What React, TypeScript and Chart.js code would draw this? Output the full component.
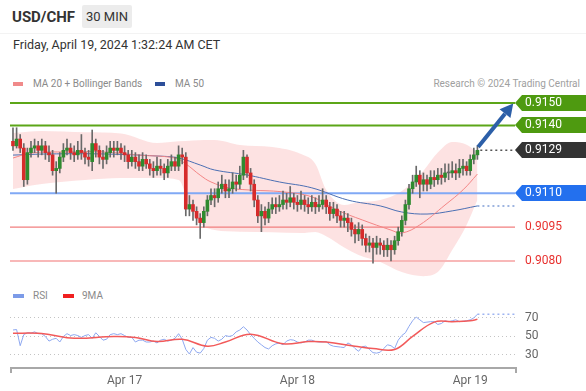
import React, { useEffect, useRef } from "react";
import { Chart, registerables } from "chart.js";

Chart.register(...registerables);

const FONT = "Roboto, 'Liberation Sans', Arial, sans-serif";

// ---- candle data (30 min) ----
const opens = [
  0.9133, 0.9131, 0.9134, 0.913, 0.9116, 0.9128, 0.913, 0.9131, 0.9129, 0.9131,
  0.9128, 0.9127, 0.912, 0.9121, 0.9126, 0.9129, 0.913, 0.9128, 0.9127, 0.9129,
  0.9128, 0.9126, 0.9124, 0.9132, 0.9129, 0.9126, 0.9125, 0.9128, 0.913, 0.9129,
  0.913, 0.9128, 0.9127, 0.9124, 0.9126, 0.9124, 0.9122, 0.9125, 0.9123, 0.9121,
  0.912, 0.9122, 0.9121, 0.9119, 0.9122, 0.9124, 0.9122, 0.9127, 0.9126, 0.9103,
  0.9105, 0.9102, 0.9099, 0.9097, 0.9102, 0.9107, 0.9109, 0.9108, 0.9112, 0.9114,
  0.9111, 0.9112, 0.9115, 0.9114, 0.9118, 0.9126, 0.9119, 0.9114, 0.9107, 0.91,
  0.9102, 0.9099, 0.9103, 0.9105, 0.9104, 0.9105, 0.9107, 0.9106, 0.9108, 0.9106,
  0.9105, 0.9107, 0.9105, 0.9104, 0.9106, 0.9104, 0.9105, 0.9107, 0.9104, 0.9101,
  0.9103, 0.91, 0.9098, 0.9099, 0.9097, 0.9094, 0.9092, 0.9094, 0.909, 0.9087,
  0.9088, 0.9086, 0.9088, 0.9087, 0.9085, 0.9087, 0.9085, 0.9089, 0.9093, 0.9098,
  0.9105, 0.9112, 0.9115, 0.9118, 0.9114, 0.9116, 0.9114, 0.9117, 0.9116, 0.9118,
  0.9117, 0.9119, 0.9119, 0.912, 0.9119, 0.9121, 0.9122, 0.912, 0.9125, 0.9127,
];
const closes = [
  0.9131, 0.9134, 0.913, 0.9116, 0.9128, 0.913, 0.9131, 0.9129, 0.9131, 0.9128,
  0.9127, 0.912, 0.9121, 0.9126, 0.9129, 0.913, 0.9128, 0.9127, 0.9129, 0.9128,
  0.9126, 0.9125, 0.9132, 0.9129, 0.9126, 0.9125, 0.9128, 0.913, 0.9129, 0.913,
  0.9128, 0.9127, 0.9124, 0.9126, 0.9124, 0.9122, 0.9125, 0.9123, 0.9121, 0.912,
  0.9122, 0.9121, 0.9119, 0.9122, 0.9124, 0.9122, 0.9127, 0.9126, 0.9103, 0.9105,
  0.9102, 0.9099, 0.9097, 0.9102, 0.9107, 0.9109, 0.9108, 0.9112, 0.9114, 0.9111,
  0.9112, 0.9115, 0.9114, 0.9118, 0.9126, 0.9119, 0.9114, 0.9107, 0.91, 0.9102,
  0.9099, 0.9103, 0.9105, 0.9104, 0.9105, 0.9107, 0.9106, 0.9108, 0.9106, 0.9105,
  0.9107, 0.9105, 0.9104, 0.9106, 0.9104, 0.9105, 0.9107, 0.9104, 0.9101, 0.9103,
  0.91, 0.9098, 0.9099, 0.9097, 0.9094, 0.9092, 0.9094, 0.909, 0.9087, 0.9088,
  0.9086, 0.9088, 0.9087, 0.9085, 0.9087, 0.9085, 0.9089, 0.9093, 0.9098, 0.9105,
  0.9112, 0.9115, 0.9118, 0.9114, 0.9116, 0.9114, 0.9117, 0.9116, 0.9118, 0.9117,
  0.9119, 0.9119, 0.912, 0.9119, 0.9121, 0.9122, 0.912, 0.9125, 0.9127, 0.9129,
];
const highs = [
  0.9139, 0.9139, 0.9136, 0.9132, 0.913, 0.9133, 0.9134, 0.9133, 0.9134, 0.9133,
  0.9131, 0.9129, 0.9124, 0.9128, 0.9132, 0.9134, 0.9132, 0.9131, 0.9133, 0.9136,
  0.913, 0.9129, 0.9138, 0.9134, 0.9131, 0.9129, 0.9131, 0.9133, 0.9133, 0.9133,
  0.9132, 0.9131, 0.9129, 0.9129, 0.9128, 0.9127, 0.9128, 0.9127, 0.9125, 0.9124,
  0.9126, 0.9125, 0.9123, 0.9125, 0.9127, 0.9126, 0.9131, 0.913, 0.9128, 0.9109,
  0.9107, 0.9104, 0.9101, 0.9104, 0.9109, 0.9112, 0.9112, 0.9115, 0.9118, 0.9116,
  0.9116, 0.9119, 0.9118, 0.9122, 0.9129, 0.9127, 0.9121, 0.9116, 0.9109, 0.9105,
  0.9104, 0.9106, 0.9108, 0.9108, 0.9109, 0.9111, 0.911, 0.9113, 0.911, 0.9109,
  0.9111, 0.9109, 0.9108, 0.9109, 0.9108, 0.9109, 0.9112, 0.9109, 0.9106, 0.9106,
  0.9105, 0.9102, 0.9102, 0.9101, 0.9099, 0.9096, 0.9097, 0.9096, 0.9092, 0.9091,
  0.909, 0.9091, 0.909, 0.9089, 0.909, 0.9089, 0.9091, 0.9095, 0.91, 0.9107,
  0.9114, 0.9118, 0.9122, 0.912, 0.9119, 0.9118, 0.912, 0.912, 0.9121, 0.9121,
  0.9123, 0.9123, 0.9124, 0.9123, 0.9125, 0.9125, 0.9124, 0.9127, 0.913, 0.9131,
];
const lows = [
  0.9129, 0.913, 0.9128, 0.9113, 0.9114, 0.9126, 0.9128, 0.9126, 0.9127, 0.9125,
  0.9124, 0.9118, 0.911, 0.9119, 0.9124, 0.9127, 0.9125, 0.9124, 0.9125, 0.9125,
  0.9123, 0.9122, 0.912, 0.9126, 0.9123, 0.9121, 0.9123, 0.9126, 0.9126, 0.9127,
  0.9125, 0.9124, 0.9121, 0.9122, 0.9121, 0.912, 0.912, 0.9121, 0.9118, 0.9117,
  0.9118, 0.9118, 0.9116, 0.9117, 0.912, 0.912, 0.912, 0.9123, 0.91, 0.91,
  0.9098, 0.9096, 0.909, 0.9095, 0.91, 0.9105, 0.9104, 0.9106, 0.911, 0.9108,
  0.9108, 0.911, 0.9111, 0.9112, 0.9116, 0.9117, 0.9111, 0.9104, 0.9097, 0.9093,
  0.9096, 0.9097, 0.9101, 0.9101, 0.9102, 0.9103, 0.9103, 0.9104, 0.9103, 0.9102,
  0.9103, 0.9102, 0.9101, 0.9102, 0.9101, 0.9102, 0.9103, 0.9101, 0.9098, 0.9099,
  0.9097, 0.9095, 0.9095, 0.9093, 0.9091, 0.9088, 0.9089, 0.9087, 0.9084, 0.9084,
  0.9079, 0.9083, 0.9083, 0.9082, 0.9082, 0.908, 0.9083, 0.9087, 0.9091, 0.9096,
  0.9103, 0.911, 0.9113, 0.9108, 0.9111, 0.9111, 0.9112, 0.9113, 0.9114, 0.9114,
  0.9115, 0.9116, 0.9117, 0.9116, 0.9117, 0.9118, 0.9118, 0.9118, 0.9123, 0.9125,
];

// ---- x axis day labels ----
const dayTickIdx = [31, 79, 127];
const dayTickLabels = ["Apr 17", "Apr 18", "Apr 19"];

// ---- key levels ----
const resistance = [0.915, 0.914];
const pivot = [0.911];
const support = [0.9095, 0.908];

// ---- overlays (candle index, value) ----
const bbIdx = [0, 8, 20, 30, 40, 46, 50, 56, 63, 72, 80, 84, 87, 92, 96, 102, 108, 114, 118, 122, 126, 129];
const bbUpper = [
  0.91367, 0.91376, 0.9137, 0.91365, 0.91323, 0.9133, 0.91334, 0.91336, 0.91314, 0.91305, 0.91274,
  0.9123, 0.91115, 0.91048, 0.9106, 0.9107, 0.9111, 0.912, 0.9128, 0.91327, 0.91315, 0.9128,
];
const bbLower = [
  0.91119, 0.91141, 0.91159, 0.91168, 0.91168, 0.91159, 0.91004, 0.90937, 0.9093, 0.90927, 0.90924,
  0.90929, 0.9091, 0.9086, 0.90827, 0.90796, 0.90751, 0.90733, 0.90751, 0.90849, 0.9096, 0.9107,
];
const ma20Idx = [0, 5, 15, 25, 35, 45, 48, 52, 55, 60, 65, 75, 83, 90, 97, 105, 108, 113, 120, 125, 129];
const ma20 = [
  0.91256, 0.91278, 0.91283, 0.91283, 0.91269, 0.91256, 0.9123, 0.9118, 0.9115, 0.91124, 0.91115,
  0.91106, 0.91084, 0.91026, 0.90982, 0.90937, 0.90924, 0.9096, 0.91048, 0.91115, 0.91185,
];
const ma50Idx = [0, 10, 25, 40, 46, 52, 56, 65, 74, 83, 93, 102, 108, 115, 122, 129];
const ma50 = [
  0.91269, 0.91274, 0.91274, 0.91265, 0.91256, 0.91225, 0.91203, 0.91181, 0.9115, 0.91124, 0.9107,
  0.91044, 0.91017, 0.91008, 0.91022, 0.91044,
];

// ---- RSI ----
const rsi = [
  57, 57.5, 40, 52, 54, 53.5, 55, 53, 53, 50,
  45, 47, 48, 44, 50, 53, 51, 52, 51, 49,
  51, 52, 48, 54, 50, 46, 47, 52, 53, 52,
  53, 51, 49, 49, 44, 46, 46, 44, 44, 45,
  43, 46, 47, 45, 46, 48, 53, 47, 36, 31,
  38, 33, 32, 37, 46, 49, 48, 45, 47, 51,
  50, 51, 55, 57, 60.5, 57, 52, 48, 44, 41,
  38, 36.5, 40, 42, 43, 41, 45, 46.5, 46, 44,
  43, 44, 46, 46, 44.5, 44, 44, 44.5, 41, 39.5,
  39, 38.5, 38, 43, 41, 37, 34, 39, 39.5, 36,
  32.5, 32, 33, 37, 41, 40, 37, 46, 51, 54,
  61, 67, 71, 68, 65, 65.5, 66, 66, 63, 64,
  67, 66, 67, 68, 66, 66.5, 67, 68, 70, 74,
];
const rsiMaIdx = [0, 7, 10, 17, 28, 34, 40, 47, 54, 59, 66, 75, 82, 87, 95, 100, 106, 111, 117, 122, 127, 129];
const rsiMa = [53.5, 53.5, 52, 48, 50, 49, 44.5, 47, 39.5, 44, 52.5, 42, 44.5, 44, 39.5, 37, 36, 50, 65.5, 66, 67, 68.5];
const rsiTicks = [30, 50, 70];

const X_MIN = -0.83;
const X_MAX = 139.44;
const AXIS_W = 71;

const GREEN = "#2f8a2f";
const RED = "#d62b2b";

function pts(idx: number[], vals: number[]) {
  return idx.map((x, i) => ({ x, y: vals[i] }));
}

function fixWidth(s: any) {
  s.width = AXIS_W;
  s.paddingTop = 0;
  s.paddingBottom = 0;
  s.paddingLeft = 0;
  s.paddingRight = 0;
}
function fixHeight(s: any) {
  s.height = 24;
  s.paddingTop = 0;
  s.paddingBottom = 0;
  s.paddingLeft = 0;
  s.paddingRight = 0;
}

export default function App() {
  const mainRef = useRef<HTMLCanvasElement>(null);
  const rsiRef = useRef<HTMLCanvasElement>(null);

  useEffect(() => {
    Chart.defaults.font.family = FONT;
    const n = closes.length;
    const last = closes[n - 1];

    const tagDefs: { v: number; bg: string | null; fg: string }[] = [
      ...resistance.map((v) => ({ v, bg: "#4e9a10", fg: "#ffffff" })),
      { v: last, bg: "#333333", fg: "#ffffff" },
      ...pivot.map((v) => ({ v, bg: "#2370ee", fg: "#ffffff" })),
      ...support.map((v) => ({ v, bg: null, fg: "#e8312f" })),
    ];

    const hline = (v: number, color: string, width: number) => ({
      type: "line" as const,
      data: [
        { x: X_MIN, y: v },
        { x: X_MAX, y: v },
      ],
      borderColor: color,
      borderWidth: width,
      pointRadius: 0,
      fill: false,
      order: 8,
    });

    const tagPlugin = {
      id: "tags",
      beforeDraw(chart: any) {
        const { ctx, chartArea } = chart;
        const ys = chart.scales.y;
        tagDefs.forEach((t) => {
          if (!t.bg) return;
          const py = Math.round(ys.getPixelForValue(t.v));
          const x0 = chartArea.right;
          const h = 8;
          ctx.save();
          ctx.fillStyle = t.bg;
          ctx.beginPath();
          ctx.moveTo(x0, py);
          ctx.lineTo(x0 + 7, py - h);
          ctx.lineTo(chart.width, py - h);
          ctx.lineTo(chart.width, py + h);
          ctx.lineTo(x0 + 7, py + h);
          ctx.closePath();
          ctx.fill();
          ctx.restore();
        });
      },
      afterDatasetsDraw(chart: any) {
        const { ctx } = chart;
        const xs = chart.scales.x;
        const ys = chart.scales.y;
        const x1 = xs.getPixelForValue(n - 1 + 0.2);
        const y1 = ys.getPixelForValue(highs[n - 1] - 0.00005);
        const x2 = xs.getPixelForValue(X_MAX - 0.5);
        const y2 = ys.getPixelForValue(resistance[0] - 0.00003);
        const ang = Math.atan2(y2 - y1, x2 - x1);
        const headLen = 13;
        const headW = 7;
        const bx = x2 - headLen * Math.cos(ang);
        const by = y2 - headLen * Math.sin(ang);
        ctx.save();
        ctx.strokeStyle = "#2c5fa8";
        ctx.fillStyle = "#2c5fa8";
        ctx.lineWidth = 4;
        ctx.beginPath();
        ctx.moveTo(x1, y1);
        ctx.lineTo(bx, by);
        ctx.stroke();
        ctx.beginPath();
        ctx.moveTo(x2, y2);
        ctx.lineTo(bx + headW * Math.sin(ang), by - headW * Math.cos(ang));
        ctx.lineTo(bx - headW * Math.sin(ang), by + headW * Math.cos(ang));
        ctx.closePath();
        ctx.fill();
        ctx.restore();
      },
    };

    const main = new Chart(mainRef.current as HTMLCanvasElement, {
      type: "bar",
      data: {
        datasets: [
          {
            type: "line",
            data: pts(bbIdx, bbUpper),
            borderWidth: 0,
            borderColor: "rgba(0,0,0,0)",
            pointRadius: 0,
            cubicInterpolationMode: "monotone",
            fill: false,
            order: 10,
          },
          {
            type: "line",
            data: pts(bbIdx, bbLower),
            borderWidth: 0,
            borderColor: "rgba(0,0,0,0)",
            backgroundColor: "rgba(250,190,190,0.45)",
            pointRadius: 0,
            cubicInterpolationMode: "monotone",
            fill: "-1",
            order: 10,
          },
          hline(resistance[0], "#5ca618", 2),
          hline(resistance[1], "#5ca618", 2),
          hline(pivot[0], "#80a9f5", 2),
          hline(support[0], "#f27f7f", 1.2),
          hline(support[1], "#f8b8b8", 2),
          {
            type: "line",
            data: [
              { x: n - 1 + 0.8, y: last },
              { x: X_MAX, y: last },
            ],
            borderColor: "#555",
            borderWidth: 1.5,
            borderDash: [2, 3],
            pointRadius: 0,
            fill: false,
            order: 7,
          },
          {
            type: "line",
            data: pts(ma20Idx, ma20),
            borderColor: "#f38585",
            borderWidth: 1,
            pointRadius: 0,
            tension: 0.4,
            fill: false,
            order: 6,
          },
          {
            type: "line",
            data: pts(ma50Idx, ma50),
            borderColor: "#4b6fb3",
            borderWidth: 1,
            pointRadius: 0,
            tension: 0.4,
            fill: false,
            order: 6,
          },
          {
            type: "line",
            data: [
              { x: ma50Idx[ma50Idx.length - 1], y: ma50[ma50.length - 1] },
              { x: X_MAX, y: ma50[ma50.length - 1] },
            ],
            borderColor: "#7f9dd6",
            borderWidth: 1.5,
            borderDash: [2, 3],
            pointRadius: 0,
            fill: false,
            order: 6,
          },
          {
            type: "bar",
            data: closes.map((_, i) => ({ x: i, y: [lows[i], highs[i]] })) as any,
            backgroundColor: "#6a6a6a",
            barThickness: 1,
            grouped: false,
            order: 3,
          },
          {
            type: "bar",
            data: closes.map((c, i) => ({ x: i, y: [opens[i], c] })) as any,
            backgroundColor: closes.map((c, i) => (c > opens[i] ? GREEN : c < opens[i] ? RED : "#666")),
            barThickness: 3,
            minBarLength: 1,
            grouped: false,
            order: 2,
          },
        ] as any,
      },
      options: {
        responsive: false,
        animation: false,
        events: [],
        layout: { padding: { left: 10, top: 5, bottom: 5, right: 0 } },
        plugins: { legend: { display: false }, tooltip: { enabled: false } },
        scales: {
          x: { type: "linear", min: X_MIN, max: X_MAX, display: false, offset: false },
          y: {
            position: "right",
            min: 0.90716,
            max: 0.91535,
            grid: { display: false, drawTicks: false },
            border: { display: false },
            afterFit: fixWidth,
            afterBuildTicks: (s: any) => {
              s.ticks = tagDefs.map((t) => ({ value: t.v })).sort((a, b) => a.value - b.value);
            },
            ticks: {
              autoSkip: false,
              padding: 10,
              font: { size: 12 },
              color: (c: any) => {
                const t = tagDefs.find((d) => Math.abs(d.v - c.tick.value) < 1e-7);
                return t ? t.fg : "#333";
              },
              callback: (v: any) => Number(v).toFixed(4),
            },
          },
        },
      } as any,
      plugins: [tagPlugin],
    });

    const axisPlugin = {
      id: "rsiAxis",
      afterDraw(chart: any) {
        const { ctx, chartArea } = chart;
        const y = chartArea.bottom + 1;
        ctx.save();
        ctx.strokeStyle = "#a8a8a8";
        ctx.lineWidth = 2;
        ctx.beginPath();
        ctx.moveTo(chartArea.left + 1, y + 5);
        ctx.lineTo(chartArea.left + 1, y);
        ctx.lineTo(chartArea.right + 1, y);
        ctx.lineTo(chartArea.right + 1, y + 5);
        ctx.stroke();
        ctx.restore();
      },
    };

    const rsiChart = new Chart(rsiRef.current as HTMLCanvasElement, {
      type: "line",
      data: {
        datasets: [
          {
            data: rsi.map((v, i) => ({ x: i, y: v })),
            borderColor: "#8ea8f0",
            borderWidth: 1,
            pointRadius: 0,
            fill: false,
            order: 2,
          },
          {
            data: [
              { x: n - 1, y: rsi[n - 1] },
              { x: X_MAX, y: rsi[n - 1] },
            ],
            borderColor: "#9db4f2",
            borderWidth: 1.5,
            borderDash: [2, 3],
            pointRadius: 0,
            fill: false,
            order: 2,
          },
          {
            data: pts(rsiMaIdx, rsiMa),
            borderColor: "#f25a5a",
            borderWidth: 1.5,
            pointRadius: 0,
            tension: 0.4,
            fill: false,
            order: 1,
          },
        ],
      },
      options: {
        responsive: false,
        animation: false,
        events: [],
        layout: { padding: { left: 10, top: 5, bottom: 0, right: 0 } },
        plugins: { legend: { display: false }, tooltip: { enabled: false } },
        scales: {
          x: {
            type: "linear",
            min: X_MIN,
            max: X_MAX,
            offset: false,
            grid: { display: false, drawTicks: false },
            border: { display: false },
            afterFit: fixHeight,
            afterBuildTicks: (s: any) => {
              s.ticks = dayTickIdx.map((v) => ({ value: v }));
            },
            ticks: {
              autoSkip: false,
              maxRotation: 0,
              padding: 7,
              color: "#666",
              font: { size: 12 },
              callback: (v: any) => {
                const k = dayTickIdx.indexOf(Number(v));
                return k >= 0 ? dayTickLabels[k] : "";
              },
            },
          },
          y: {
            position: "right",
            min: 17,
            max: 84,
            grid: { color: "#c4c4c4", lineWidth: 1, drawTicks: false },
            border: { display: false, dash: [1, 3] },
            afterFit: fixWidth,
            afterBuildTicks: (s: any) => {
              s.ticks = rsiTicks.map((v) => ({ value: v }));
            },
            ticks: { padding: 10, color: "#666", font: { size: 12 } },
          },
        },
      } as any,
      plugins: [axisPlugin],
    });

    return () => {
      main.destroy();
      rsiChart.destroy();
    };
  }, []);

  const legendText: React.CSSProperties = { fontSize: 10, color: "#8a8a8a", lineHeight: "14px" };

  return (
    <div
      style={{
        position: "absolute",
        left: 0,
        top: 0,
        width: 586,
        height: 391,
        background: "#fff",
        fontFamily: FONT,
        overflow: "hidden",
      }}
    >
      <div style={{ position: "absolute", left: 12, top: 7, fontSize: 15, fontWeight: 700, color: "#333", lineHeight: "20px" }}>
        USD/CHF
      </div>
      <div
        style={{
          position: "absolute",
          left: 82,
          top: 5,
          width: 50,
          height: 23,
          background: "#ececec",
          borderRadius: 2,
          fontSize: 13,
          color: "#333",
          lineHeight: "23px",
          textAlign: "center",
        }}
      >
        30 MIN
      </div>
      <div style={{ position: "absolute", left: 0, top: 33, width: 586, height: 1, background: "#f3f3f3" }} />
      <div style={{ position: "absolute", left: 13, top: 37, fontSize: 12.5, color: "#333", lineHeight: "16px" }}>
        Friday, April 19, 2024 1:32:24 AM CET
      </div>

      <div style={{ position: "absolute", left: 13, top: 82, width: 10, height: 4, background: "#f08a8a" }} />
      <div style={{ position: "absolute", left: 33, top: 77, ...legendText }}>MA 20 + Bollinger Bands</div>
      <div style={{ position: "absolute", left: 155, top: 82, width: 10, height: 4, background: "#2d4f99" }} />
      <div style={{ position: "absolute", left: 175, top: 77, ...legendText }}>MA 50</div>
      <div style={{ position: "absolute", right: 6, top: 77, ...legendText, color: "#a0a0a0" }}>Research © 2024 Trading Central</div>

      <canvas ref={mainRef} width={586} height={195} style={{ position: "absolute", left: 0, top: 90, display: "block" }} />

      <div style={{ position: "absolute", left: 13, top: 294, width: 11, height: 4, background: "#7c9be8" }} />
      <div style={{ position: "absolute", left: 33, top: 289, ...legendText }}>RSI</div>
      <div style={{ position: "absolute", left: 63, top: 294, width: 11, height: 4, background: "#f02020" }} />
      <div style={{ position: "absolute", left: 82, top: 289, ...legendText }}>9MA</div>

      <canvas ref={rsiRef} width={586} height={91} style={{ position: "absolute", left: 0, top: 300, display: "block" }} />
    </div>
  );
}
